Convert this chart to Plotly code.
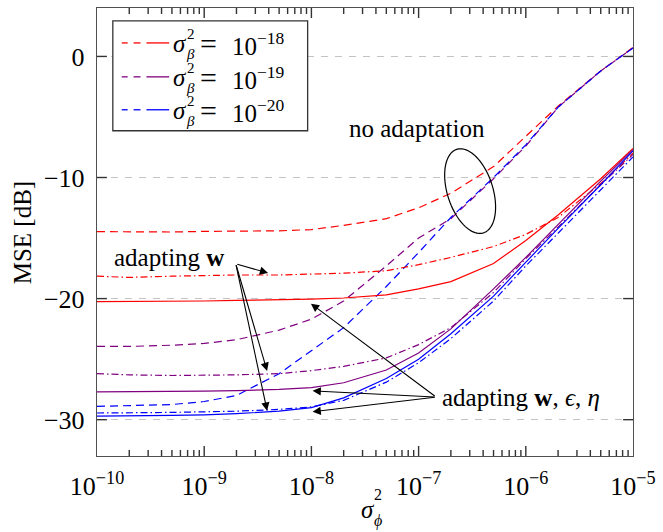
import numpy as np
import plotly.graph_objects as go

# ---------------------------------------------------------------- data
sigma_phi2 = [1e-10, 2e-10, 5e-10, 1e-9, 2e-9, 5e-9, 1e-8, 2e-8,
              5e-8, 1e-7, 2e-7, 5e-7, 1e-6, 2e-6, 5e-6, 1e-5]

# no adaptation (dashed)
mse_none_18 = [-14.47, -14.5, -14.5, -14.45, -14.45, -14.4, -14.3, -13.95,
               -13.4, -12.5, -11.3, -9.1, -6.6, -4.1, -1.2, 0.75]
mse_none_19 = [-23.95, -23.95, -23.85, -23.7, -23.4, -22.6, -21.7, -20.2,
               -17.3, -15.0, -13.4, -10.1, -7.4, -4.2, -1.2, 0.7]
mse_none_20 = [-28.9, -28.85, -28.75, -28.5, -28.0, -26.2, -24.3, -22.4,
               -19.0, -16.2, -13.3, -10.0, -7.3, -4.2, -1.2, 0.7]

# adapting w (dash-dot)
mse_w_18 = [-18.15, -18.25, -18.15, -18.1, -18.05, -18.05, -18.0, -17.9,
            -17.7, -17.2, -16.6, -15.7, -14.7, -13.3, -10.5, -8.0]
mse_w_19 = [-26.2, -26.3, -26.35, -26.35, -26.3, -26.2, -25.95, -25.6,
            -24.9, -23.8, -22.4, -19.5, -16.7, -14.1, -10.6, -8.1]
mse_w_20 = [-29.45, -29.45, -29.4, -29.35, -29.3, -29.15, -28.95, -28.4,
            -26.9, -25.3, -23.3, -20.2, -17.3, -14.6, -11.0, -8.3]

# adapting w, eps, eta (solid)
mse_all_18 = [-20.25, -20.25, -20.2, -20.2, -20.15, -20.1, -20.05, -19.95,
              -19.7, -19.2, -18.6, -17.1, -15.2, -13.1, -10.1, -7.6]
mse_all_19 = [-27.7, -27.7, -27.65, -27.65, -27.6, -27.5, -27.35, -26.95,
              -25.9, -24.5, -22.5, -19.2, -16.6, -13.9, -10.3, -7.7]
mse_all_20 = [-29.7, -29.7, -29.65, -29.6, -29.5, -29.3, -29.0, -28.2,
              -26.6, -25.0, -22.9, -19.8, -17.0, -14.2, -10.6, -7.8]

legend_exponents = ["−18", "−19", "−20"]
series_colors = ["#ff0000", "#800080", "#0000ff"]

x_tick_vals = [1e-10, 1e-9, 1e-8, 1e-7, 1e-6, 1e-5]
x_tick_text = ["10<sup>−10</sup>", "10<sup>−9</sup>", "10<sup>−8</sup>",
               "10<sup>−7</sup>", "10<sup>−6</sup>", "10<sup>−5</sup>"]
x_minor_vals = [k * 10.0 ** e for e in range(-10, -5) for k in range(2, 10)]
y_tick_vals = [0, -10, -20, -30]
y_tick_text = ["0", "−10", "−20", "−30"]
x_range_log = [-10, -5]
y_range = [-33, 4]

# ---------------------------------------------------------------- style
W, H = 663, 532
ML, MR, MT, MB = 97, 24, 7, 76
PW, PH = W - ML - MR, H - MT - MB
FONT = "Liberation Serif"
FS = 25
DASHED = "8px,5px"
DASHDOT = "7px,3px,1.5px,3px"
AXIS_COLOR = "#505050"
TICK_COLOR = "#333333"
MAJOR_LEN, MINOR_LEN = 10, 6


def px2paper(px, py):
    """Convert a pixel position of the page into paper coordinates."""
    return (px - ML) / PW, (MT + PH - py) / PH


def px2data(px, py):
    """Convert a pixel position into (log10 x, y) axis units."""
    return -10 + (px - ML) / (PW / 5.0), 4 - (py - MT) / (PH / 37.0)


fig = go.Figure()

groups = [
    (mse_none_18, mse_none_19, mse_none_20, DASHED),
    (mse_w_18, mse_w_19, mse_w_20, DASHDOT),
    (mse_all_18, mse_all_19, mse_all_20, "solid"),
]
for ys18, ys19, ys20, dash in groups:
    for ys, col in zip((ys18, ys19, ys20), series_colors):
        fig.add_trace(go.Scatter(
            x=sigma_phi2, y=ys, mode="lines",
            line=dict(color=col, width=1.2, dash=dash),
            showlegend=False, hoverinfo="skip"))

# ---------------------------------------------------------------- inner ticks
# tick marks pointing into the frame on all four sides, drawn in axis units
dy_per_px = (y_range[1] - y_range[0]) / PH
dlx_per_px = (x_range_log[1] - x_range_log[0]) / PW
tx, ty = [], []
for vals, length in [(x_tick_vals[1:-1], MAJOR_LEN), (x_minor_vals, MINOR_LEN)]:
    for v in vals:
        tx += [v, v, None, v, v, None]
        ty += [y_range[0], y_range[0] + length * dy_per_px, None,
               y_range[1], y_range[1] - length * dy_per_px, None]
x_left_in = 10 ** (x_range_log[0] + MAJOR_LEN * dlx_per_px)
x_right_in = 10 ** (x_range_log[1] - MAJOR_LEN * dlx_per_px)
for v in y_tick_vals:
    tx += [10.0 ** x_range_log[0], x_left_in, None,
           10.0 ** x_range_log[1], x_right_in, None]
    ty += [v, v, None, v, v, None]
fig.add_trace(go.Scatter(x=tx, y=ty, mode="lines", connectgaps=False,
                         line=dict(color=TICK_COLOR, width=1.4),
                         showlegend=False, hoverinfo="skip",
                         cliponaxis=False))

shapes = []
annotations = []

# ---------------------------------------------------------------- legend box
bx0, by0 = px2paper(113, 130)
bx1, by1 = px2paper(310, 20)
shapes.append(dict(type="rect", xref="paper", yref="paper",
                   x0=bx0, y0=by0, x1=bx1, y1=by1,
                   line=dict(color="#333333", width=1.3),
                   fillcolor="white", layer="above"))
rows_y = [42, 76, 109]
for row, col, expo in zip(rows_y, series_colors, legend_exponents):
    for (a, b) in [(122, 128), (134, 141), (147, 170)]:
        xa, ya = px2paper(a, row)
        xb, _ = px2paper(b, row)
        shapes.append(dict(type="line", xref="paper", yref="paper",
                           x0=xa, x1=xb, y0=ya, y1=ya, layer="above",
                           line=dict(color=col, width=1.3)))
    for txt, px, py, size, anchor in [
            ("<i>σ</i>", 181, row + 1, FS, "center"),
            ("2", 192, row - 9, 15, "center"),
            ("<i>β</i>", 192, row + 11, 15, "center"),
            ("=", 210, row + 1, 30, "center"),
            ("10<sup>" + expo + "</sup>", 233, row + 1, FS, "left")]:
        ax_, ay_ = px2paper(px, py)
        annotations.append(dict(text=txt, xref="paper", yref="paper",
                                x=ax_, y=ay_, xanchor=anchor,
                                yanchor="middle", showarrow=False,
                                borderpad=0,
                                font=dict(family=FONT, size=size,
                                          color="black")))

# ---------------------------------------------------------------- ellipse
cx, cy, a_ax, b_ax, tilt = 474.3, 190.5, 44.0, 23.0, np.deg2rad(18)
t = np.linspace(0, 2 * np.pi, 80)
ex = cx + (-a_ax * np.sin(tilt)) * np.cos(t) + b_ax * np.cos(tilt) * np.sin(t)
ey = cy + (-a_ax * np.cos(tilt)) * np.cos(t) - b_ax * np.sin(tilt) * np.sin(t)
pts = [px2paper(u, v) for u, v in zip(ex, ey)]
path = "M " + " L ".join(f"{u:.5f},{v:.5f}" for u, v in pts) + " Z"
shapes.append(dict(type="path", xref="paper", yref="paper", path=path,
                   line=dict(color="black", width=1.2)))

# ---------------------------------------------------------------- text labels
lx, ly = px2data(421, 128)
annotations.append(dict(text="no adaptation", x=lx, y=ly, xref="x",
                        yref="y", showarrow=False, xanchor="center",
                        yanchor="middle",
                        font=dict(family=FONT, size=FS, color="black")))
lx, ly = px2data(112, 257)
annotations.append(dict(text="adapting <b>w</b>", x=lx, y=ly, xref="x",
                        yref="y", showarrow=False, xanchor="left",
                        yanchor="middle",
                        font=dict(family=FONT, size=FS, color="black")))
lx, ly = px2data(444, 397)
annotations.append(dict(text="adapting <b>w</b>, <i>ϵ</i>, <i>η</i>",
                        x=lx, y=ly, xref="x", yref="y", showarrow=False,
                        xanchor="left", yanchor="middle",
                        font=dict(family=FONT, size=FS, color="black")))

# ---------------------------------------------------------------- arrows
arrow_sets = [
    ((237.3, 263.3), [(270, 272.7), (269, 370.7), (269, 410.7)]),
    ((440, 397), [(313.3, 303.3), (315, 390.7), (315, 411.7)]),
]
for (tx0, ty0), tips in arrow_sets:
    tlx, tly = px2data(tx0, ty0)
    for hx, hy in tips:
        hlx, hly = px2data(hx, hy)
        annotations.append(dict(
            x=hlx, y=hly, ax=tlx, ay=tly, xref="x", yref="y",
            axref="x", ayref="y", text="", showarrow=True,
            arrowhead=2, arrowsize=1.5, arrowwidth=1.1,
            arrowcolor="black", standoff=0, startstandoff=0))

# ---------------------------------------------------------------- axis titles
tx_, ty_ = px2paper(22, 232)
annotations.append(dict(text="MSE [dB]", xref="paper", yref="paper",
                        x=tx_, y=ty_, textangle=-90, showarrow=False,
                        xanchor="center", yanchor="middle",
                        font=dict(family=FONT, size=FS, color="black")))
for txt, px, py, size in [("<i>σ</i>", 371, 510, FS), ("2", 381, 495, 16),
                          ("<i>ϕ</i>", 381, 521, 16)]:
    u, v = px2paper(px, py)
    annotations.append(dict(text=txt, xref="paper", yref="paper", x=u, y=v,
                            xanchor="center", yanchor="middle",
                            showarrow=False, borderpad=0,
                            font=dict(family=FONT, size=size,
                                      color="black")))

fig.update_layout(
    width=W, height=H,
    margin=dict(l=ML, r=MR, t=MT, b=MB, pad=0),
    paper_bgcolor="white", plot_bgcolor="white",
    shapes=shapes, annotations=annotations,
    showlegend=False,
    font=dict(family=FONT, size=FS, color="black"),
    xaxis=dict(type="log", range=x_range_log, tickmode="array",
               tickvals=x_tick_vals, ticktext=x_tick_text,
               ticks="", ticklabelstandoff=7,
               showline=True, linecolor=AXIS_COLOR, linewidth=1.4,
               mirror=True, showgrid=False, zeroline=False,
               tickfont=dict(family=FONT, size=26, color="black")),
    yaxis=dict(range=y_range, tickmode="array", tickvals=y_tick_vals,
               ticktext=y_tick_text, ticks="", ticklabelstandoff=6,
               showline=True, linecolor=AXIS_COLOR, linewidth=1.4,
               mirror=True, showgrid=True, gridcolor="#c4c4c4",
               gridwidth=1.3, griddash="7px,7px", zeroline=False,
               tickfont=dict(family=FONT, size=26, color="black")),
)

fig.write_html("out.html")
